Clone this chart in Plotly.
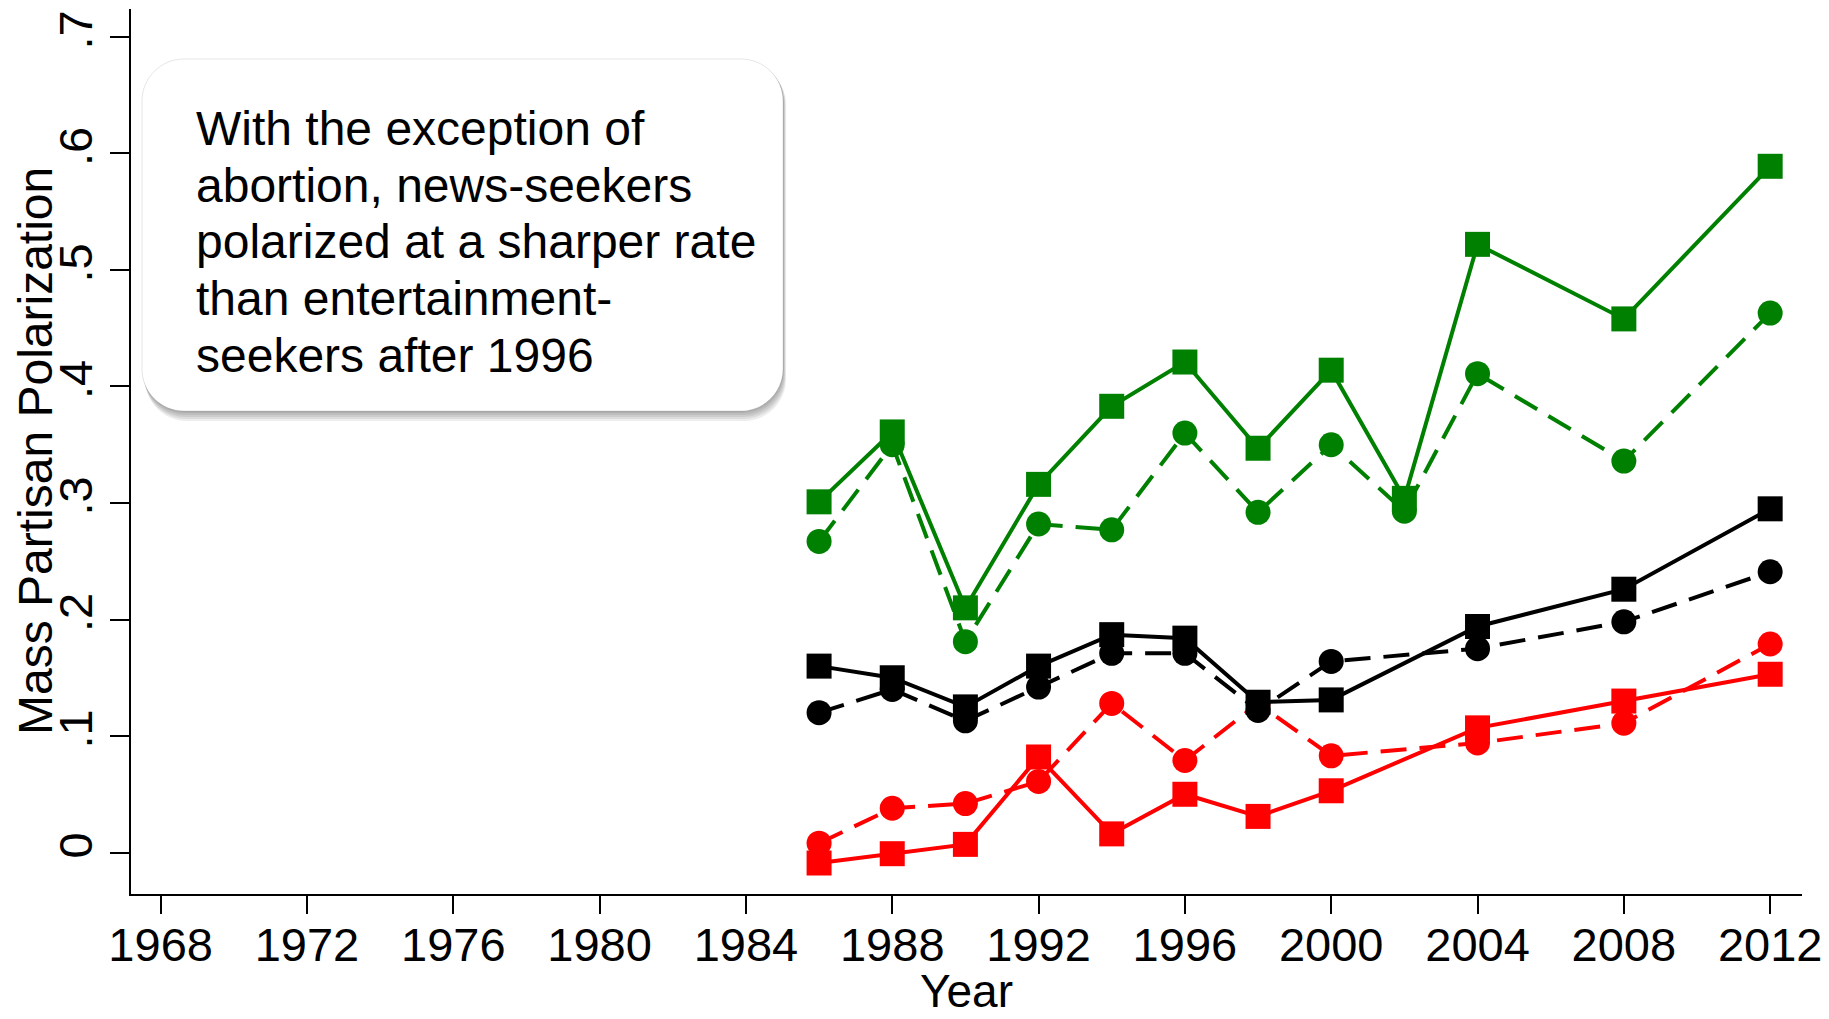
import plotly.graph_objects as go

# ---------------- data ----------------
years_green = [1986, 1988, 1990, 1992, 1994, 1996, 1998, 2000, 2002, 2004, 2008, 2012]
years = [1986, 1988, 1990, 1992, 1994, 1996, 1998, 2000, 2004, 2008, 2012]

green_solid = [0.301, 0.361, 0.210, 0.316, 0.383, 0.421, 0.347, 0.414, 0.304, 0.522, 0.458, 0.589]
green_dash = [0.267, 0.350, 0.181, 0.282, 0.277, 0.360, 0.292, 0.350, 0.293, 0.411, 0.336, 0.463]
black_solid = [0.160, 0.150, 0.125, 0.160, 0.187, 0.184, 0.129, 0.131, 0.194, 0.226, 0.295]
black_dash = [0.120, 0.140, 0.113, 0.142, 0.171, 0.171, 0.122, 0.164, 0.175, 0.198, 0.241]
red_solid = [-0.009, -0.001, 0.007, 0.082, 0.016, 0.050, 0.031, 0.053, 0.107, 0.130, 0.153]
red_dash = [0.008, 0.038, 0.042, 0.061, 0.128, 0.079, 0.128, 0.083, 0.094, 0.111, 0.179]

x_ticks = [1968, 1972, 1976, 1980, 1984, 1988, 1992, 1996, 2000, 2004, 2008, 2012]
x_tick_labels = [str(v) for v in x_ticks]
y_ticks = [0, 0.1, 0.2, 0.3, 0.4, 0.5, 0.6, 0.7]
y_tick_labels = ["0", ".1", ".2", ".3", ".4", ".5", ".6", ".7"]

note_lines = [
    "With the exception of",
    "abortion, news-seekers",
    "polarized at a sharper rate",
    "than entertainment-",
    "seekers after 1996",
]
x_title = "Year"
y_title = "Mass Partisan Polarization"

# ---------------- layout geometry (screen pixels) ----------------
SCREEN_W, SCREEN_H = 1829, 1019
OFF = 8                      # page body margin
SL, SR, ST, SB = 131, 1802, 9, 894   # plot area on screen
PW, PH = SR - SL, SB - ST
W, H = SCREEN_W - OFF, SCREEN_H - OFF
ML, MT = SL - OFF, ST - OFF
MR, MB = W - ML - PW, H - MT - PH
XR = [1967.19, 2012.87]
YR = [-0.0356, 0.7240]

FONT = "Liberation Sans, Arial, Helvetica, sans-serif"
GREEN = "#008000"
RED = "#ff0000"
BLACK = "#000000"
DASH = "26px,13px"
LW = 4
MS = 25


def px2x(px):
    return XR[0] + (px - SL) / PW * (XR[1] - XR[0])


def px2y(py):
    return YR[1] - (py - ST) / PH * (YR[1] - YR[0])


def rrect_path(x0, y0, x1, y1, r):
    k = 0.5523 * r
    pts = [
        ("M", [(x0 + r, y0)]),
        ("L", [(x1 - r, y0)]),
        ("C", [(x1 - r + k, y0), (x1, y0 + r - k), (x1, y0 + r)]),
        ("L", [(x1, y1 - r)]),
        ("C", [(x1, y1 - r + k), (x1 - r + k, y1), (x1 - r, y1)]),
        ("L", [(x0 + r, y1)]),
        ("C", [(x0 + r - k, y1), (x0, y1 - r + k), (x0, y1 - r)]),
        ("L", [(x0, y0 + r)]),
        ("C", [(x0, y0 + r - k), (x0 + r - k, y0), (x0 + r, y0)]),
    ]
    s = ""
    for cmd, ps in pts:
        s += cmd + " " + " ".join(f"{px2x(a):.5f},{px2y(b):.6f}" for a, b in ps) + " "
    return s + "Z"


fig = go.Figure()


def add_series(x, y, color, dashed):
    fig.add_trace(go.Scatter(
        x=x, y=y, mode="lines+markers",
        line=dict(color=color, width=LW, dash=DASH if dashed else "solid"),
        marker=dict(symbol="circle" if dashed else "square", size=MS, color=color,
                    line=dict(width=0)),
        showlegend=False, hoverinfo="x+y",
    ))


add_series(years, red_dash, RED, True)
add_series(years, red_solid, RED, False)
add_series(years_green, green_dash, GREEN, True)
add_series(years_green, green_solid, GREEN, False)
add_series(years, black_dash, BLACK, True)
add_series(years, black_solid, BLACK, False)

# ---------------- note box with shadow ----------------
bx0, by0, bx1, by1, br = 142, 59, 783, 411, 42
shapes = []
for d in [10, 8, 6, 4, 2]:
    shapes.append(dict(
        type="path", xref="x", yref="y", layer="below",
        path=rrect_path(bx0 + d * 0.3, by0 + d * 0.4, bx1 + d * 0.3, by1 + d, br),
        fillcolor="rgba(0,0,0,0.07)", line=dict(width=0),
    ))
shapes.append(dict(
    type="path", xref="x", yref="y", layer="below",
    path=rrect_path(bx0, by0, bx1, by1, br),
    fillcolor="white", line=dict(color="rgba(0,0,0,0.10)", width=1),
))

annotations = []
NOTE_FS = 48
base0, step = 146.0, 56.6
for i, txt in enumerate(note_lines):
    baseline = base0 + i * step
    annotations.append(dict(
        text=txt, xref="paper", yref="paper",
        x=(194 - SL) / PW, y=1 - (baseline - 0.36 * NOTE_FS - ST) / PH,
        xanchor="left", yanchor="middle", showarrow=False,
        font=dict(family=FONT, size=NOTE_FS, color="black"),
    ))

annotations.append(dict(
    text=x_title, xref="paper", yref="paper",
    x=0.5, y=1 - (1018 - ST) / PH, xanchor="center", yanchor="bottom",
    showarrow=False, borderpad=0,
    font=dict(family=FONT, size=46, color="black"),
))
annotations.append(dict(
    text=y_title, xref="paper", yref="paper", textangle=-90,
    x=(35.5 - SL) / PW, y=0.5, xanchor="center", yanchor="middle",
    showarrow=False, font=dict(family=FONT, size=48, color="black"),
))

fig.update_layout(
    width=W, height=H,
    margin=dict(l=ML, r=MR, t=MT, b=MB, pad=0),
    paper_bgcolor="white", plot_bgcolor="white",
    shapes=shapes, annotations=annotations,
    font=dict(family=FONT, color="black"),
)
fig.update_xaxes(
    range=XR, tickmode="array", tickvals=x_ticks, ticktext=x_tick_labels,
    showgrid=False, zeroline=False, showline=True, linecolor="black", linewidth=2,
    ticks="outside", ticklen=18, tickwidth=2, tickcolor="black",
    ticklabelstandoff=-9,
    tickfont=dict(family=FONT, size=47, color="black"), automargin=False,
)
fig.update_yaxes(
    range=YR, tickmode="array", tickvals=y_ticks, ticktext=y_tick_labels,
    showgrid=False, zeroline=False, showline=True, linecolor="black", linewidth=2,
    ticks="outside", ticklen=19, tickwidth=2, tickcolor="black", tickangle=-90,
    ticklabelstandoff=-1,
    tickfont=dict(family=FONT, size=47, color="black"), automargin=False,
)

fig.write_html("out.html")
